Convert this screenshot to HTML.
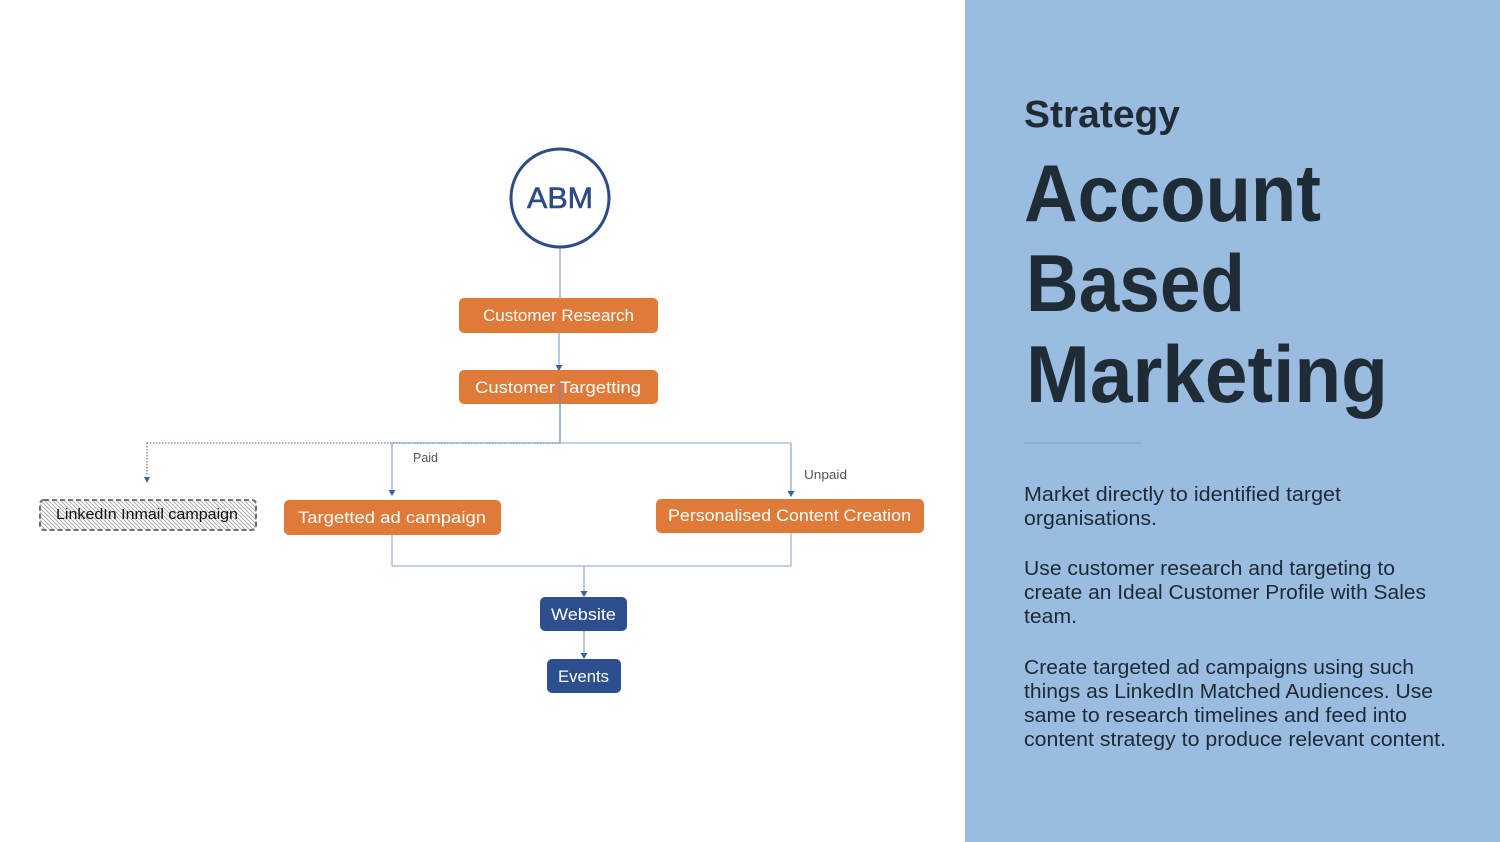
<!DOCTYPE html>
<html>
<head>
<meta charset="utf-8">
<style>
  html,body{margin:0;padding:0;background:#fff;}
  body{width:1500px;height:842px;overflow:hidden;position:relative;}
  svg{position:absolute;left:0;top:0;}
  .box{font-family:"Liberation Sans",Arial,sans-serif;font-size:17px;fill:#fff;}
</style>
</head>
<body>
<svg width="1500" height="842" viewBox="0 0 1500 842" xmlns="http://www.w3.org/2000/svg">
  <defs>
    <pattern id="hatch" patternUnits="userSpaceOnUse" width="4" height="4">
      <rect width="4" height="4" fill="#ffffff"/>
      <path d="M-1,-1 L5,5 M-1,3 L1,5 M3,-1 L5,1" stroke="#a5a5a5" stroke-width="0.9"/>
    </pattern>
  </defs>

  <!-- Right panel -->
  <rect x="965" y="0" width="535" height="842" fill="#9bbce1"/>

  <!-- Connectors -->
  <g fill="none" stroke-width="1.3">
    <line x1="560" y1="246" x2="560" y2="298" stroke="#9aa6ba"/>
    <line x1="559" y1="333" x2="559" y2="366" stroke="#8eaad8"/>
    <line x1="560" y1="392" x2="560" y2="443" stroke="#6d8cc7"/>
    <line x1="392" y1="443" x2="791" y2="443" stroke="#9db3dc"/>
    <line x1="147" y1="443" x2="560" y2="443" stroke="#6f86b6" stroke-dasharray="1.5 1.5"/>
    <line x1="147" y1="443" x2="147" y2="476" stroke="#6f86b6" stroke-dasharray="1.5 1.5"/>
    <line x1="392" y1="443" x2="392" y2="491" stroke="#8eaad8"/>
    <line x1="791" y1="443" x2="791" y2="492" stroke="#8eaad8"/>
    <line x1="392" y1="535" x2="392" y2="566" stroke="#9db3dc"/>
    <line x1="791" y1="533" x2="791" y2="566" stroke="#9db3dc"/>
    <line x1="392" y1="566" x2="791" y2="566" stroke="#9db3dc"/>
    <line x1="584" y1="566" x2="584" y2="592" stroke="#8eaad8"/>
    <line x1="584" y1="631" x2="584" y2="654" stroke="#8eaad8"/>
  </g>
  <!-- Arrowheads -->
  <g fill="#3d5fa3">
    <polygon points="555.5,365 562.5,365 559,371"/>
    <polygon points="144,477 150,477 147,483"/>
    <polygon points="388.5,490 395.5,490 392,496"/>
    <polygon points="787.5,491 794.5,491 791,497"/>
    <polygon points="580.5,591 587.5,591 584,597"/>
    <polygon points="580.5,653 587.5,653 584,659"/>
  </g>

  <!-- ABM circle -->
  <circle cx="560" cy="198" r="49" fill="#fff" stroke="#2d4c86" stroke-width="3"/>
  <text x="527" y="208" font-family="Liberation Sans, Arial, sans-serif" font-size="30" fill="#2d4c86" stroke="#2d4c86" stroke-width="0.6" textLength="66" lengthAdjust="spacingAndGlyphs">ABM</text>

  <!-- Orange boxes -->
  <rect x="459" y="298" width="199" height="35" rx="5" fill="#e07a39"/>
  <text class="box" x="483" y="321" textLength="151" lengthAdjust="spacingAndGlyphs">Customer Research</text>

  <rect x="459" y="370" width="199" height="34" rx="5" fill="#e07a39"/>
  <line x1="560" y1="380" x2="560" y2="404" stroke="#6d8cc7" stroke-width="1.3"/>
  <text class="box" x="475" y="393" textLength="166" lengthAdjust="spacingAndGlyphs">Customer Targetting</text>

  <rect x="284" y="500" width="217" height="35" rx="5" fill="#e07a39"/>
  <text class="box" x="298" y="523" textLength="188" lengthAdjust="spacingAndGlyphs">Targetted ad campaign</text>

  <rect x="656" y="499" width="268" height="34" rx="5" fill="#e07a39"/>
  <text class="box" x="668" y="521" textLength="243" lengthAdjust="spacingAndGlyphs">Personalised Content Creation</text>

  <!-- LinkedIn hatched box -->
  <rect x="40" y="500" width="216" height="30" rx="4" fill="url(#hatch)" stroke="#707070" stroke-width="2" stroke-dasharray="5 3"/>
  <text x="56" y="519" font-family="Liberation Sans, Arial, sans-serif" font-size="15" fill="#111" textLength="182" lengthAdjust="spacingAndGlyphs">LinkedIn Inmail campaign</text>

  <!-- Labels -->
  <text x="413" y="462" font-family="Liberation Sans, Arial, sans-serif" font-size="13" fill="#555" textLength="25" lengthAdjust="spacingAndGlyphs">Paid</text>
  <text x="804" y="479" font-family="Liberation Sans, Arial, sans-serif" font-size="13" fill="#555" textLength="43" lengthAdjust="spacingAndGlyphs">Unpaid</text>

  <!-- Navy boxes -->
  <rect x="540" y="597" width="87" height="34" rx="5" fill="#2e4f8e"/>
  <text class="box" x="551" y="620" textLength="65" lengthAdjust="spacingAndGlyphs">Website</text>
  <rect x="547" y="659" width="74" height="34" rx="5" fill="#2e4f8e"/>
  <text class="box" x="558" y="682" textLength="51" lengthAdjust="spacingAndGlyphs">Events</text>

  <!-- Right panel text -->
  <g font-family="Liberation Sans, Arial, sans-serif" fill="#1f2c35">
    <text x="1024" y="127" font-size="38" font-weight="bold" textLength="156" lengthAdjust="spacingAndGlyphs">Strategy</text>
    <text x="1024" y="221" font-size="81" font-weight="bold" textLength="297" lengthAdjust="spacingAndGlyphs">Account</text>
    <text x="1026" y="311" font-size="81" font-weight="bold" textLength="219" lengthAdjust="spacingAndGlyphs">Based</text>
    <text x="1026" y="402" font-size="81" font-weight="bold" textLength="362" lengthAdjust="spacingAndGlyphs">Marketing</text>
  </g>
  <line x1="1024" y1="443" x2="1141" y2="443" stroke="#84a6cf" stroke-width="1.5"/>
  <g font-family="Liberation Sans, Arial, sans-serif" font-size="20" fill="#1c2a33">
    <text x="1024" y="501" textLength="317" lengthAdjust="spacingAndGlyphs">Market directly to identified target</text>
    <text x="1024" y="525" textLength="133" lengthAdjust="spacingAndGlyphs">organisations.</text>
    <text x="1024" y="575" textLength="371" lengthAdjust="spacingAndGlyphs">Use customer research and targeting to</text>
    <text x="1024" y="599" textLength="402" lengthAdjust="spacingAndGlyphs">create an Ideal Customer Profile with Sales</text>
    <text x="1024" y="623" textLength="53" lengthAdjust="spacingAndGlyphs">team.</text>
    <text x="1024" y="674" textLength="390" lengthAdjust="spacingAndGlyphs">Create targeted ad campaigns using such</text>
    <text x="1024" y="698" textLength="409" lengthAdjust="spacingAndGlyphs">things as LinkedIn Matched Audiences. Use</text>
    <text x="1024" y="722" textLength="383" lengthAdjust="spacingAndGlyphs">same to research timelines and feed into</text>
    <text x="1024" y="746" textLength="422" lengthAdjust="spacingAndGlyphs">content strategy to produce relevant content.</text>
  </g>
</svg>
</body>
</html>
